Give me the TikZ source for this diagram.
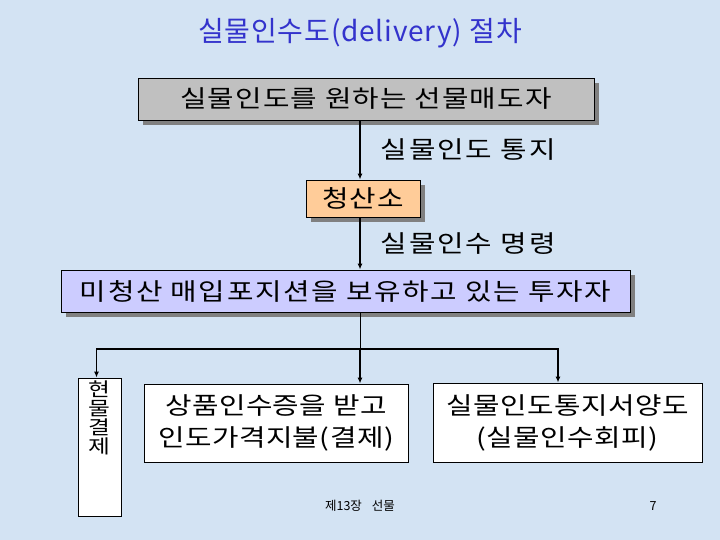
\documentclass[tikz,border=0pt]{standalone}
\usepackage{fontspec}
\setmainfont{Noto Sans CJK KR}
\usetikzlibrary{arrows.meta,shadows}
\definecolor{Backdrop}{HTML}{D3E3F3}
\definecolor{TitleBlue}{HTML}{3333CC}
\definecolor{SellerGray}{HTML}{C0C0C0}
\definecolor{Peach}{HTML}{FFCC99}
\definecolor{Lavender}{HTML}{CCCCFF}
\definecolor{Shade}{HTML}{808080}
\newcommand{\tracked}[2]{\fontsize{#1}{32}\selectfont\addfontfeature{FakeStretch=1.2,LetterSpace=#2}}
\newcommand{\stacked}{\fontsize{19}{19}\selectfont\addfontfeature{FakeStretch=1.25}\lineskiplimit=-100pt\relax}

\begin{document}
\begin{tikzpicture}[x=1pt,y=-1pt,
  box/.style={draw=black,line width=0.9pt,inner sep=0pt,align=center,font=\tracked{24}{5},drop shadow={shadow xshift=5pt,shadow yshift=-5pt,fill=Shade,opacity=1}},
  plain/.style={draw=black,line width=0.9pt,fill=white,inner sep=0pt,align=center,font=\tracked{24}{2}},
  note/.style={font=\tracked{24}{8},inner sep=0pt},
  arrow/.style={-{Latex[length=6pt,width=5pt]},line width=1.3pt,draw=black},
  foot/.style={font=\fontsize{12.5}{14}\selectfont,inner sep=0pt}
]
\fill[Backdrop] (0,0) rectangle (720,540);
\coordinate (spine) at (360,0);
\coordinate (fork) at (360,349);
\node[font=\fontsize{28}{32}\selectfont\addfontfeature{LetterSpace=3},text=TitleBlue] (title) at (360,33) {실물인수도(delivery) 절차};
\node[box,fill=SellerGray,minimum width=456pt,minimum height=42pt] (seller) at (366,99) {실물인도를 원하는 선물매도자};
\node[box,fill=Peach,minimum width=114pt,minimum height=37pt] (clear) at (363,198.5) {청산소};
\node[box,fill=Lavender,minimum width=569pt,minimum height=42pt,font=\tracked{24}{7}] (holder) at (345.5,291) {미청산 매입포지션을 보유하고 있는 투자자};
\node[plain,minimum width=43pt,minimum height=138pt] (spot) at (99.5,447) {};
\node[font=\stacked,align=center,inner sep=0pt,anchor=north] (spotname) at (99.5,381) {현\\물\\결\\제};
\node[plain,minimum width=264pt,minimum height=78pt] (pay) at (276,423) {상품인수증을 받고\\인도가격지불(결제)};
\node[plain,minimum width=269pt,minimum height=79pt] (waive) at (567.5,422.5) {실물인도통지서양도\\(실물인수회피)};
\draw[arrow] (seller.south -| spine) -- node[note,right=20pt] {실물인도 통지} (clear.north -| spine);
\draw[arrow] (clear.south -| spine) -- node[note,right=20pt] {실물인수 명령} (holder.north -| spine);
\draw[line width=0.6pt] (holder.south -| spine) -- (fork);
\draw[arrow] (fork) -| ([xshift=-3pt]spot.north);
\draw[arrow] (fork) -- (pay.north -| fork);
\draw[arrow] (fork) -| ([xshift=-9.5pt]waive.north);
\node[foot] (chapter) at (360,506) {제13장\hspace{10pt}선물};
\node[foot] (page) at (653,506) {7};
\end{tikzpicture}
\end{document}
